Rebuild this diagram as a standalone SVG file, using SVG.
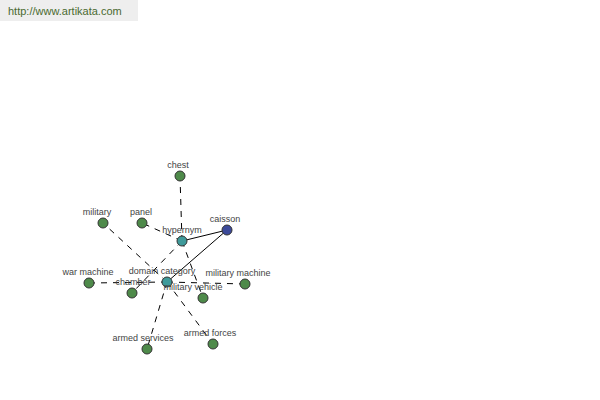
<svg xmlns="http://www.w3.org/2000/svg" width="600" height="400" viewBox="0 0 600 400">
<style>
.lbl{font-family:"Liberation Sans",Arial,sans-serif;font-size:9px;fill:#444;text-anchor:middle}
.n{stroke:#333;stroke-width:1}
.g{fill:#4e8a4a}
.t{fill:#3f9a9a}
.b{fill:#3c4a9a}
.d{stroke:#000;stroke-width:1;stroke-dasharray:6,6;fill:none}
.s{stroke:#000;stroke-width:1;fill:none}
</style>
<rect width="600" height="400" fill="#fff"/>
<rect x="0" y="0" width="138" height="21" fill="#eeeeee"/>
<text x="8" y="15" font-family="Liberation Sans,Arial,sans-serif" font-size="11" fill="#4a6a30">http://www.artikata.com</text>
<g id="connectors">
<line class="d" x1="182" y1="241" x2="180" y2="176"/>
<line class="d" x1="182" y1="241" x2="142" y2="223"/>
<line class="d" x1="182" y1="241" x2="132" y2="293"/>
<line class="d" x1="182" y1="241" x2="203" y2="298"/>
<line class="d" x1="167" y1="282" x2="103" y2="223"/>
<line class="d" x1="167" y1="282" x2="89" y2="283"/>
<line class="d" x1="167" y1="282" x2="245" y2="284"/>
<line class="d" x1="167" y1="282" x2="147" y2="349"/>
<line class="d" x1="167" y1="282" x2="213" y2="344"/>
<line class="s" x1="227" y1="230" x2="182" y2="241"/>
<line class="s" x1="227" y1="230" x2="167" y2="282"/>
</g>
<g id="chest"><circle class="n g" cx="180" cy="176" r="5"/><text class="lbl" x="178" y="168">chest</text></g>
<g id="military"><circle class="n g" cx="103" cy="223" r="5"/><text class="lbl" x="97" y="215">military</text></g>
<g id="panel"><circle class="n g" cx="142" cy="223" r="5"/><text class="lbl" x="141" y="215">panel</text></g>
<g id="caisson"><circle class="n b" cx="227" cy="230" r="5"/><text class="lbl" x="225" y="222">caisson</text></g>
<g id="hypernym"><circle class="n t" cx="182" cy="241" r="5"/><text class="lbl" x="182" y="233">hypernym</text></g>
<g id="war-machine"><circle class="n g" cx="89" cy="283" r="5"/><text class="lbl" x="88" y="275">war machine</text></g>
<g id="chamber"><circle class="n g" cx="132" cy="293" r="5"/><text class="lbl" x="133" y="285">chamber</text></g>
<g id="domain-category"><circle class="n t" cx="167" cy="282" r="5"/><text class="lbl" x="162" y="274">domain category</text></g>
<g id="military-vehicle"><circle class="n g" cx="203" cy="298" r="5"/><text class="lbl" x="193" y="290">military vehicle</text></g>
<g id="military-machine"><circle class="n g" cx="245" cy="284" r="5"/><text class="lbl" x="238" y="276">military machine</text></g>
<g id="armed-services"><circle class="n g" cx="147" cy="349" r="5"/><text class="lbl" x="143" y="341">armed services</text></g>
<g id="armed-forces"><circle class="n g" cx="213" cy="344" r="5"/><text class="lbl" x="210" y="336">armed forces</text></g>
</svg>
